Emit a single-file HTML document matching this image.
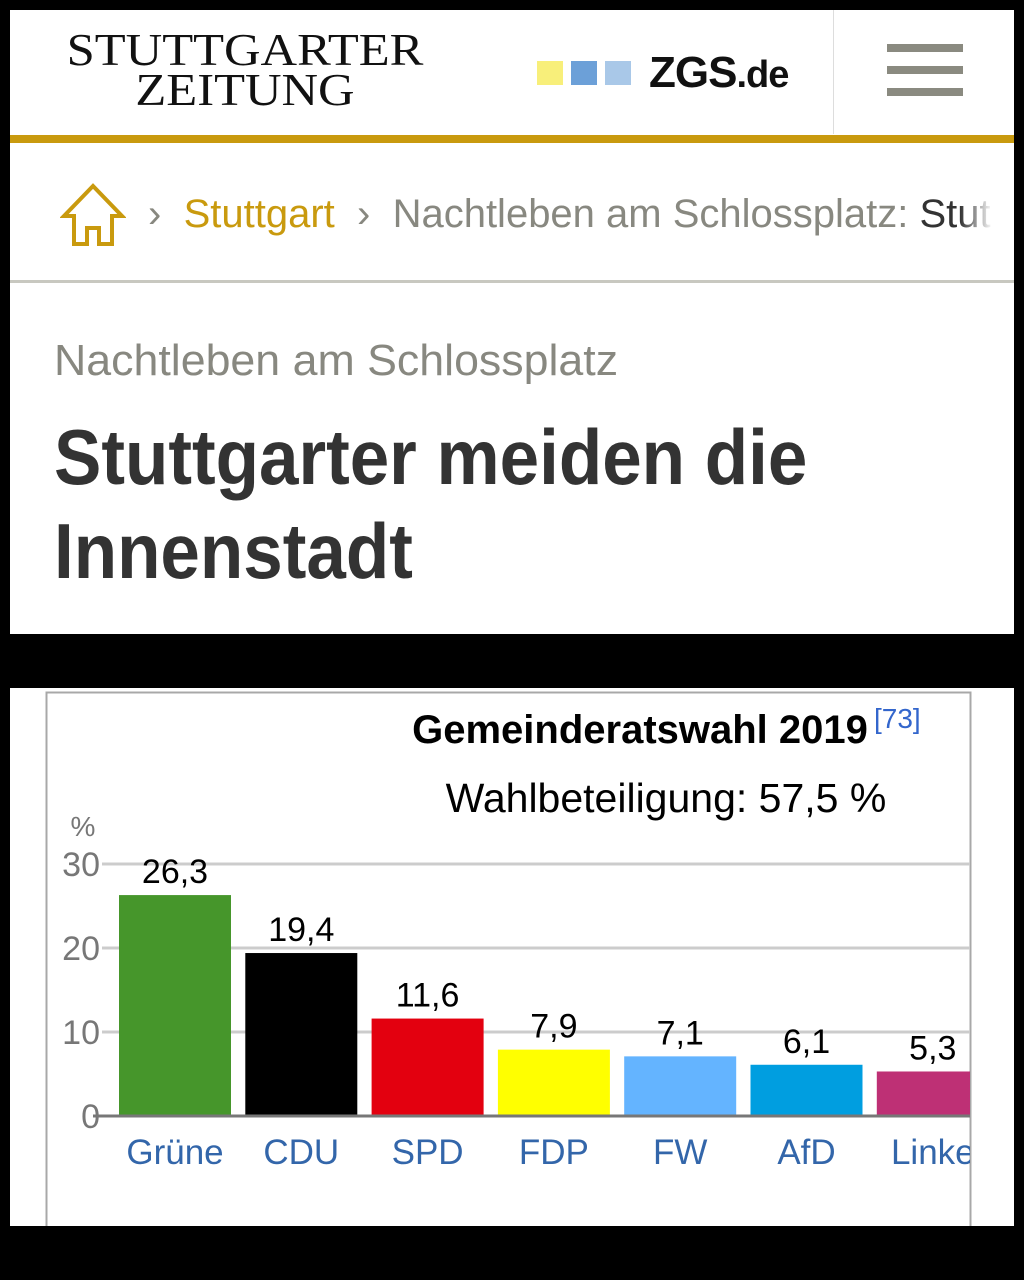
<!DOCTYPE html>
<html><head><meta charset="utf-8"><style>
body{margin:0;width:1024px;height:1280px;background:#000;position:relative;overflow:hidden;font-family:"Liberation Sans",sans-serif}
.abs{position:absolute}
</style></head><body>
<div class="abs" style="left:10px;top:10px;width:1004px;height:624px;background:#fff">
  <div class="abs" style="left:0;top:20px;width:470px;text-align:center;font-family:'Liberation Serif',serif;font-size:46px;line-height:40px;color:#111;transform:scaleX(1.1);transform-origin:center">STUTTGARTER<br>ZEITUNG</div>
  <div class="abs" style="left:527px;top:38px;height:50px;display:flex;align-items:center">
    <span style="display:inline-block;width:26px;height:24px;background:#f8ef7a;margin-right:8px"></span>
    <span style="display:inline-block;width:26px;height:24px;background:#6ca0d8;margin-right:8px"></span>
    <span style="display:inline-block;width:26px;height:24px;background:#a9c8e8;margin-right:18px"></span>
    <span style="font-weight:bold;font-size:44px;color:#111;letter-spacing:-1px">ZGS<span style="font-size:38px">.de</span></span>
  </div>
  <div class="abs" style="left:823px;top:0;width:1px;height:124px;background:#ddd"></div>
  <div class="abs" style="left:877px;top:34px;width:76px;height:62px">
    <div style="height:8px;background:#8a8a80;margin-bottom:14px"></div>
    <div style="height:8px;background:#8a8a80;margin-bottom:14px"></div>
    <div style="height:8px;background:#8a8a80"></div>
  </div>
  <div class="abs" style="left:0;top:125px;width:1004px;height:8px;background:#c99a0e"></div>
  <svg class="abs" style="left:50px;top:172px" width="66" height="66" viewBox="0 0 66 66"><path d="M33 4 L4 34 H14 V62 H27 V46 H39 V62 H52 V34 H62 Z" fill="none" stroke="#c99a0e" stroke-width="4" stroke-linejoin="miter"/></svg>
  <div class="abs" style="left:138px;top:182px;font-size:40px;white-space:nowrap;color:#888880;transform:scaleX(1.0);transform-origin:left">
    <span>›</span>&nbsp;&nbsp;<span style="color:#c99a0e">Stuttgart</span>&nbsp;&nbsp;<span>›</span>&nbsp;&nbsp;<span>Nachtleben am Schlossplatz: <span style="color:#333">Stut</span></span>
  </div>
  <div class="abs" style="left:950px;top:140px;width:54px;height:130px;background:linear-gradient(to right,rgba(255,255,255,0),#fff 60%)"></div>
  <div class="abs" style="left:0;top:270px;width:1004px;height:3px;background:#c8c8c0"></div>
  <div class="abs" style="left:44px;top:326px;font-size:44px;color:#888880;white-space:nowrap;transform:scaleX(1.016);transform-origin:left">Nachtleben am Schlossplatz</div>
  <div class="abs" style="left:44px;top:400px;font-size:78px;line-height:94px;font-weight:bold;color:#333;white-space:nowrap;transform:scaleX(0.91);transform-origin:left">Stuttgarter meiden die<br>Innenstadt</div>
</div>
<div class="abs" style="left:10px;top:688px;width:1004px;height:538px;background:#fff"></div>
<svg class="abs" style="left:0;top:0" width="1024" height="1226" id="chart"></svg>
<script>
const parties=["Grüne","CDU","SPD","FDP","FW","AfD","Linke"];
const values=[26.3,19.4,11.6,7.9,7.1,6.1,5.3];
const valueLabels=["26,3","19,4","11,6","7,9","7,1","6,1","5,3"];
const colors=["#46962b","#000000","#e3000f","#ffff00","#64b4ff","#009ee0","#be3075"];
const ticks=[0,10,20,30];
const NS="http://www.w3.org/2000/svg";
const svg=document.getElementById('chart');
const y=v=>1116-v*8.4;
const x=i=>119+i*126.3;
const bw=112;
function mk(t,a,txt){const e=document.createElementNS(NS,t);for(const k in a)e.setAttribute(k,a[k]);if(txt!==undefined)e.textContent=txt;svg.appendChild(e);return e;}
const defs=document.createElementNS(NS,'defs');defs.innerHTML='<clipPath id="cp"><rect x="0" y="0" width="970" height="1280"/></clipPath>';svg.appendChild(defs);
let b=mk('rect',{x:46.5,y:692.5,width:924,height:560,fill:'none',stroke:'#a8a8a8','stroke-width':2});


let t=mk('text',{x:640,y:743,'text-anchor':'middle','font-size':40,'font-weight':'bold',fill:'#000'},'Gemeinderatswahl 2019');


let r=mk('text',{x:874,y:728,'font-size':28,fill:'#3366cc'},'[73]');


let s=mk('text',{x:666,y:812,'text-anchor':'middle','font-size':41,fill:'#000'},'Wahlbeteiligung: 57,5 %');


let u=mk('text',{x:83,y:836,'text-anchor':'middle','font-size':28,fill:'#777'},'%');


ticks.forEach(v=>{
  if(v>0){const g=mk('line',{x1:102,x2:970,y1:y(v),y2:y(v),stroke:'#ccc','stroke-width':3});
  
  }
  const l=mk('text',{x:100,y:y(v)+12,'text-anchor':'end','font-size':34,fill:'#777'},String(v));
  
  
});
parties.forEach((p,i)=>{
  const rc=mk('rect',{x:x(i),y:y(values[i]),width:bw,height:y(0)-y(values[i]),fill:colors[i],'clip-path':'url(#cp)'});
  
  
  const vl=mk('text',{x:x(i)+bw/2,y:y(values[i])-12,'text-anchor':'middle','font-size':34,fill:'#000'},valueLabels[i]);
  
  
  const cl=mk('text',{x:x(i)+bw/2,y:1164,'text-anchor':'middle','font-size':35,fill:'#3366aa','clip-path':'url(#cp)'},p);
  
  
});
const ax=mk('line',{x1:93,x2:970,y1:y(0),y2:y(0),stroke:'#777','stroke-width':3});


</script>
</body></html>
